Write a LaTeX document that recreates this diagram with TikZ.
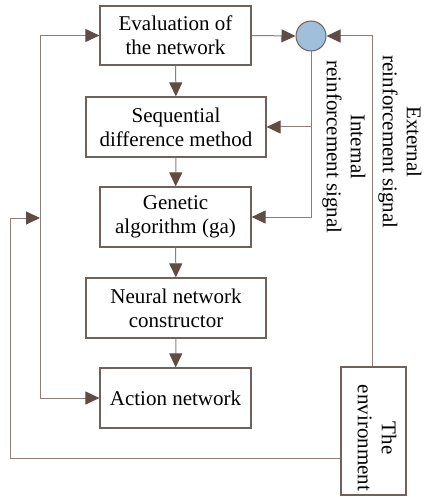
\documentclass[tikz,border=0pt]{standalone}
\usepackage{fontspec}
\setmainfont{Liberation Serif}
\newfontfamily\tnr{Liberation Serif}
\usetikzlibrary{arrows.meta}
\definecolor{linec}{HTML}{8C7F7A}
\definecolor{tipc}{HTML}{5F4C45}
\definecolor{boxc}{HTML}{6E625D}
\definecolor{circfill}{HTML}{A0BFDA}
\tikzset{
  blk/.style={draw=boxc, line width=1.2pt, fill=white, inner sep=0pt, align=center,
    font=\tnr\fontsize{21}{24}\selectfont},
  conn/.style={draw=linec, line width=1pt,
    -{Triangle[length=14pt,width=13pt,color=tipc]}},
  plain/.style={draw=linec, line width=1pt},
  lbl/.style={rotate=-90, align=center, font=\tnr\fontsize{21}{24}\selectfont}
}
\begin{document}
\begin{tikzpicture}[x=1pt,y=-1pt]
\useasboundingbox (0,0) rectangle (423,497);
\node[blk, minimum width=151pt, minimum height=59pt] (eval) at (175.5,35.5) {Evaluation of\\the network};
\node[blk, minimum width=180pt, minimum height=60pt] (seq) at (176,127) {Sequential\\difference method};
\node[blk, minimum width=151pt, minimum height=60pt] (ga) at (175.5,217) {Genetic\\algorithm (ga)};
\node[blk, minimum width=180pt, minimum height=60pt] (nn) at (176,308) {Neural network\\constructor};
\node[blk, minimum width=151pt, minimum height=60pt] (act) at (175.5,398) {Action network};
\node[blk, minimum width=65pt, minimum height=128pt] (env) at (373.5,431) {};
\node[lbl] (envt) at (377,438) {The\\environment};
\node[circle, draw=boxc, line width=1pt, fill=circfill, minimum size=30pt, inner sep=0pt] (circ) at (311,36) {};
\node[lbl] (intl) at (344,147) {Internal\\reinforcement signal};
\node[lbl] (extl) at (400,142) {External\\reinforcement signal};
\coordinate (j) at (40,218);
\coordinate (lo) at (10,458);

\draw[conn] (eval) -- (seq);
\draw[conn] (seq) -- (ga);
\draw[conn] (ga) -- (nn);
\draw[conn] (nn) -- (act);
\draw[conn] (eval.east) -- (circ.west);
\draw[conn] (env.north -| 372,0) |- (circ.east);
\draw[conn] (circ.south) |- (ga.east);
\draw[conn] (circ.south |- seq.east) -- (seq.east);
\draw[conn] (j) |- (eval.west);
\draw[conn] (j) |- (act.west);
\draw[conn] (env.west |- lo) -- (lo) -- (lo |- j) -- (j);
\end{tikzpicture}
\end{document}
